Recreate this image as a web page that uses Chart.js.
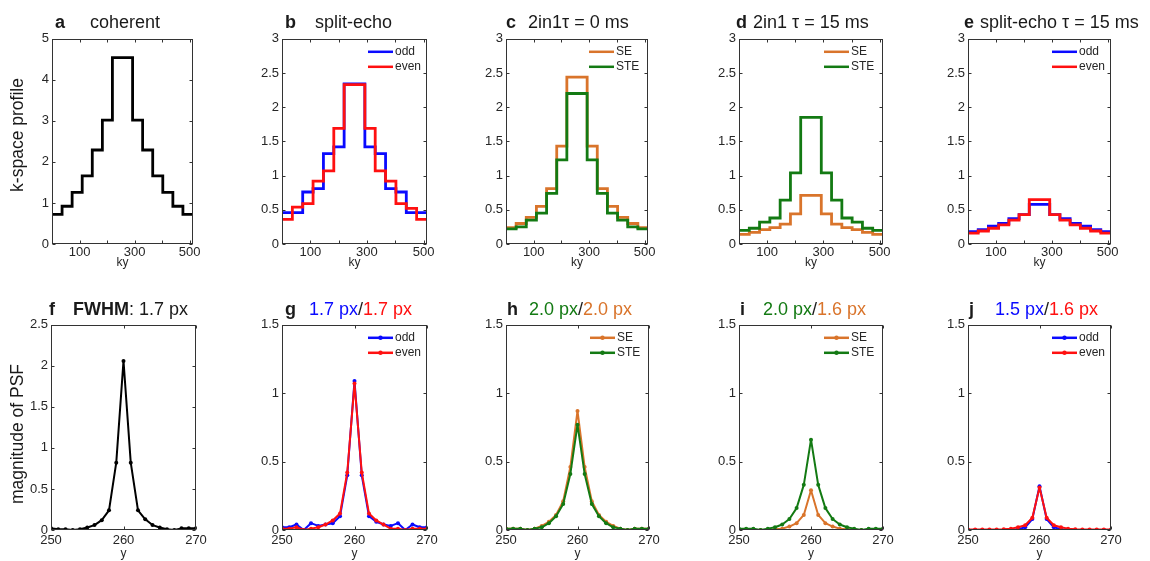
<!DOCTYPE html>
<html><head><meta charset="utf-8">
<script src="https://cdn.jsdelivr.net/npm/chart.js@4.4.1/dist/chart.umd.min.js"></script>
<style>
html,body{margin:0;padding:0;background:#fff;}
#wrap{position:relative;width:1150px;height:561px;overflow:hidden;font-family:"Liberation Sans",Arial,sans-serif;}
canvas{position:absolute;}
.t{position:absolute;white-space:nowrap;font-size:18px;line-height:18px;color:#1a1a1a;}
.b{font-weight:bold;}
.yl{position:absolute;white-space:nowrap;font-size:17.5px;line-height:18px;color:#1a1a1a;transform:translate(-50%,-50%) rotate(-90deg);}
</style></head><body><div id="wrap"></div>
<script>
// ---------- data ----------
// k-space segment edges (ky), last entry is the end of the axis
const kyEdges = [0, 36.6, 73.1, 109.7, 146.3, 182.9, 219.4, 292.6, 329.1, 365.7, 402.3, 438.9, 475.4, 512];
const profA     = [0.72, 0.92, 1.26, 1.66, 2.29, 3.02, 4.54, 3.02, 2.29, 1.66, 1.26, 0.92, 0.72];
const profBOdd  = [0.46, 0.46, 0.76, 0.81, 1.32, 1.42, 2.34, 1.42, 1.32, 0.81, 0.76, 0.46, 0.46];
const profBEven = [0.36, 0.54, 0.59, 0.92, 1.07, 1.69, 2.33, 1.69, 1.07, 0.92, 0.59, 0.52, 0.36];
const profCSE   = [0.24, 0.30, 0.39, 0.55, 0.81, 1.43, 2.44, 1.43, 0.81, 0.55, 0.39, 0.30, 0.24];
const profCSTE  = [0.22, 0.25, 0.35, 0.45, 0.74, 1.23, 2.20, 1.23, 0.74, 0.45, 0.35, 0.25, 0.22];
const profDSE   = [0.14, 0.17, 0.21, 0.24, 0.29, 0.44, 0.71, 0.44, 0.29, 0.24, 0.21, 0.17, 0.14];
const profDSTE  = [0.20, 0.23, 0.32, 0.38, 0.64, 1.04, 1.85, 1.04, 0.64, 0.38, 0.32, 0.23, 0.20];
const profEOdd  = [0.18, 0.21, 0.26, 0.30, 0.37, 0.43, 0.58, 0.43, 0.37, 0.30, 0.26, 0.21, 0.18];
const profEEven = [0.16, 0.19, 0.23, 0.28, 0.35, 0.43, 0.65, 0.43, 0.35, 0.28, 0.23, 0.19, 0.16];

// PSF sample positions (y)
const yPix = [250, 251, 252, 253, 254, 255, 256, 257, 258, 259, 260, 261, 262, 263, 264, 265, 266, 267, 268, 269, 270];
const psfF     = [0.02, 0.01, 0.01, 0.00, 0.01, 0.03, 0.06, 0.12, 0.24, 0.82, 2.06, 0.82, 0.24, 0.13, 0.06, 0.03, 0.01, 0.00, 0.02, 0.02, 0.02];
const psfGOdd  = [0.02, 0.02, 0.04, 0.00, 0.05, 0.03, 0.04, 0.05, 0.10, 0.40, 1.09, 0.40, 0.10, 0.06, 0.04, 0.03, 0.05, 0.00, 0.04, 0.02, 0.02];
const psfGEven = [0.01, 0.01, 0.02, 0.00, 0.01, 0.02, 0.04, 0.07, 0.12, 0.42, 1.07, 0.42, 0.12, 0.07, 0.04, 0.01, 0.01, 0.00, 0.01, 0.01, 0.01];
const psfHSE   = [0.01, 0.01, 0.01, 0.00, 0.01, 0.03, 0.06, 0.11, 0.21, 0.46, 0.87, 0.46, 0.21, 0.11, 0.06, 0.03, 0.01, 0.00, 0.01, 0.01, 0.01];
const psfHSTE  = [0.01, 0.01, 0.01, 0.00, 0.01, 0.02, 0.05, 0.10, 0.19, 0.41, 0.77, 0.41, 0.19, 0.10, 0.05, 0.02, 0.01, 0.00, 0.01, 0.01, 0.01];
const psfISE   = [0.00, 0.00, 0.00, 0.00, 0.00, 0.005, 0.01, 0.025, 0.05, 0.11, 0.29, 0.11, 0.05, 0.025, 0.01, 0.005, 0.00, 0.00, 0.00, 0.00, 0.00];
const psfISTE  = [0.01, 0.01, 0.01, 0.00, 0.01, 0.02, 0.04, 0.08, 0.16, 0.33, 0.66, 0.33, 0.16, 0.08, 0.04, 0.02, 0.01, 0.00, 0.01, 0.01, 0.01];
const psfJOdd  = [0.00, 0.00, 0.00, 0.00, 0.00, 0.00, 0.00, 0.005, 0.02, 0.08, 0.32, 0.08, 0.02, 0.005, 0.00, 0.00, 0.00, 0.00, 0.00, 0.00, 0.00];
const psfJEven = [0.003, 0.003, 0.003, 0.003, 0.003, 0.005, 0.01, 0.02, 0.035, 0.09, 0.31, 0.09, 0.035, 0.02, 0.01, 0.005, 0.003, 0.003, 0.003, 0.003, 0.003];

// tick labels
const kyTickLabels = [100, 300, 500];
const yTickLabels = [250, 260, 270];

// ---------- styling ----------
const BLUE = '#0a0aff', RED = '#ff1010', ORANGE = '#d9742b', GREEN = '#137a13', BLACK = '#000000';
const TXT = '#262626';
Chart.defaults.font.family = '"Liberation Sans", Arial, sans-serif';

const wrap = document.getElementById('wrap');

function stepData(vals) {
  const pts = vals.map((v, i) => ({x: kyEdges[i], y: v}));
  pts.push({x: kyEdges[kyEdges.length - 1], y: vals[vals.length - 1]});
  return pts;
}
function psfData(vals) { return vals.map((v, i) => ({x: yPix[i], y: v})); }

const framePlugin = {
  id: 'frame',
  afterDraw(chart) {
    const {ctx, chartArea: ca, scales} = chart;
    ctx.save();
    ctx.strokeStyle = '#333'; ctx.lineWidth = 1;
    const L = Math.round(ca.left) + 0.5, T = Math.round(ca.top) + 0.5;
    const R = Math.round(ca.right) - 0.5, B = Math.round(ca.bottom) - 0.5;
    ctx.strokeRect(L, T, R - L, B - T);
    ctx.beginPath();
    scales.x.ticks.forEach(t => {
      const px = Math.round(scales.x.getPixelForValue(t.value)) + 0.5;
      ctx.moveTo(px, B); ctx.lineTo(px, B - 3);
      ctx.moveTo(px, T); ctx.lineTo(px, T + 3);
    });
    scales.y.ticks.forEach(t => {
      const py = Math.round(scales.y.getPixelForValue(t.value)) + 0.5;
      ctx.moveTo(L, py); ctx.lineTo(L + 3, py);
      ctx.moveTo(R, py); ctx.lineTo(R - 3, py);
    });
    ctx.stroke();
    ctx.restore();
  }
};

const innerLegend = {
  id: 'innerLegend',
  afterDatasetsDraw(chart, args, opts) {
    if (!opts.show) return;
    const {ctx, chartArea: ca} = chart;
    chart.data.datasets.forEach((ds, i) => {
      const y = ca.top + 13 + i * 15;
      const x0 = ca.right - 59;
      ctx.save();
      ctx.strokeStyle = ds.borderColor; ctx.lineWidth = 2.5;
      ctx.beginPath(); ctx.moveTo(x0, y); ctx.lineTo(x0 + 25, y); ctx.stroke();
      if (opts.marker) {
        ctx.fillStyle = ds.borderColor;
        ctx.beginPath(); ctx.arc(x0 + 12.5, y, 2.2, 0, Math.PI * 2); ctx.fill();
      }
      ctx.fillStyle = TXT; ctx.font = '12px "Liberation Sans", Arial, sans-serif';
      ctx.textBaseline = 'middle'; ctx.textAlign = 'left';
      ctx.fillText(ds.label, x0 + 27, y);
      ctx.restore();
    });
  }
};

function makePanel(p) {
  const YW = 40, TP = 10, RP = 14, XH = p.row === 0 ? 26 : 31;
  const c = document.createElement('canvas');
  const w = p.box.r - p.box.l + YW + RP, h = p.box.b - p.box.t + TP + XH;
  c.width = w; c.height = h;
  c.style.left = (p.box.l - YW) + 'px'; c.style.top = (p.box.t - TP) + 'px';
  c.style.width = w + 'px'; c.style.height = h + 'px';
  wrap.appendChild(c);
  const top = p.row === 0;
  const labelSet = top ? kyTickLabels : yTickLabels;
  const datasets = p.series.map((s, i) => ({
    label: s.label,
    data: top ? stepData(s.values) : psfData(s.values),
    borderColor: s.color,
    backgroundColor: s.color,
    borderWidth: top ? 2.8 : 2,
    borderJoinStyle: top ? 'miter' : 'round',
    borderCapStyle: 'butt',
    pointRadius: top ? 0 : 2,
    pointBorderWidth: 0,
    pointBackgroundColor: s.color,
    stepped: top ? true : false,
    tension: 0,
    order: s.order !== undefined ? s.order : i
  }));
  new Chart(c, {
    type: 'line',
    data: {datasets},
    plugins: [framePlugin, innerLegend],
    options: {
      responsive: false, animation: false, devicePixelRatio: 1,
      layout: {padding: {top: TP, right: RP, left: 0, bottom: 0}},
      plugins: {legend: {display: false}, tooltip: {enabled: false},
                innerLegend: {show: p.series.length > 1, marker: !top}},
      scales: {
        x: {
          type: 'linear', min: top ? 0 : 250, max: top ? 512 : 270,
          afterFit: s => { s.height = XH; },
          grid: {display: false, drawTicks: false}, border: {display: false},
          ticks: {stepSize: top ? 100 : 10, includeBounds: false, autoSkip: false, maxRotation: 0,
                  padding: top ? 1 : 3, color: TXT, font: {size: 13},
                  callback: v => labelSet.includes(v) ? String(v) : ''},
          title: {display: true, text: top ? 'ky' : 'y', color: TXT, font: {size: 12}, padding: 0}
        },
        y: {
          type: 'linear', min: 0, max: p.ymax,
          afterFit: s => { s.width = YW; },
          grid: {display: false, drawTicks: false}, border: {display: false},
          ticks: {stepSize: p.ystep, padding: 3, color: TXT, font: {size: 13},
                  callback: v => String(v)}
        }
      }
    }
  });
}

const panels = [
  {row: 0, box: {l: 52, t: 38, r: 193, b: 244}, ymax: 5, ystep: 1,
   series: [{label: 'coherent', values: profA, color: BLACK}]},
  {row: 0, box: {l: 282, t: 38, r: 427, b: 244}, ymax: 3, ystep: 0.5,
   series: [{label: 'odd', values: profBOdd, color: BLUE, order: 1}, {label: 'even', values: profBEven, color: RED, order: 0}]},
  {row: 0, box: {l: 506, t: 38, r: 648, b: 244}, ymax: 3, ystep: 0.5,
   series: [{label: 'SE', values: profCSE, color: ORANGE, order: 1}, {label: 'STE', values: profCSTE, color: GREEN, order: 0}]},
  {row: 0, box: {l: 739, t: 38, r: 883, b: 244}, ymax: 3, ystep: 0.5,
   series: [{label: 'SE', values: profDSE, color: ORANGE, order: 1}, {label: 'STE', values: profDSTE, color: GREEN, order: 0}]},
  {row: 0, box: {l: 968, t: 38, r: 1111, b: 244}, ymax: 3, ystep: 0.5,
   series: [{label: 'odd', values: profEOdd, color: BLUE, order: 1}, {label: 'even', values: profEEven, color: RED, order: 0}]},
  {row: 1, box: {l: 51, t: 324, r: 196, b: 530}, ymax: 2.5, ystep: 0.5,
   series: [{label: 'coherent', values: psfF, color: BLACK}]},
  {row: 1, box: {l: 282, t: 324, r: 427, b: 530}, ymax: 1.5, ystep: 0.5,
   series: [{label: 'odd', values: psfGOdd, color: BLUE, order: 1}, {label: 'even', values: psfGEven, color: RED, order: 0}]},
  {row: 1, box: {l: 506, t: 324, r: 649, b: 530}, ymax: 1.5, ystep: 0.5,
   series: [{label: 'SE', values: psfHSE, color: ORANGE, order: 1}, {label: 'STE', values: psfHSTE, color: GREEN, order: 0}]},
  {row: 1, box: {l: 739, t: 324, r: 883, b: 530}, ymax: 1.5, ystep: 0.5,
   series: [{label: 'SE', values: psfISE, color: ORANGE, order: 1}, {label: 'STE', values: psfISTE, color: GREEN, order: 0}]},
  {row: 1, box: {l: 968, t: 324, r: 1111, b: 530}, ymax: 1.5, ystep: 0.5,
   series: [{label: 'odd', values: psfJOdd, color: BLUE, order: 1}, {label: 'even', values: psfJEven, color: RED, order: 0}]}
];
panels.forEach(makePanel);

// ---------- titles ----------
function addText(x, top, html, cls) {
  const d = document.createElement('div');
  d.className = cls || 't';
  d.style.left = x + 'px'; d.style.top = top + 'px';
  d.innerHTML = html;
  wrap.appendChild(d);
}
const T1 = 13, T2 = 300;
addText(55, T1, '<span class="b">a</span>');
addText(90, T1, 'coherent');
addText(285, T1, '<span class="b">b</span>');
addText(315, T1, 'split-echo');
addText(506, T1, '<span class="b">c</span>');
addText(528, T1, '2in1τ = 0 ms');
addText(736, T1, '<span class="b">d</span>');
addText(753, T1, '2in1 τ = 15 ms');
addText(964, T1, '<span class="b">e</span>');
addText(980, T1, 'split-echo τ = 15 ms');

addText(49, T2, '<span class="b">f</span>');
addText(73, T2, '<span class="b">FWHM</span>: 1.7 px');
addText(285, T2, '<span class="b">g</span>');
addText(309, T2, '<span style="color:' + BLUE + '">1.7 px</span>/<span style="color:' + RED + '">1.7 px</span>');
addText(507, T2, '<span class="b">h</span>');
addText(529, T2, '<span style="color:' + GREEN + '">2.0 px</span>/<span style="color:' + ORANGE + '">2.0 px</span>');
addText(740, T2, '<span class="b">i</span>');
addText(763, T2, '<span style="color:' + GREEN + '">2.0 px</span>/<span style="color:' + ORANGE + '">1.6 px</span>');
addText(969, T2, '<span class="b">j</span>');
addText(995, T2, '<span style="color:' + BLUE + '">1.5 px</span>/<span style="color:' + RED + '">1.6 px</span>');

addText(17, 135, 'k-space profile', 'yl');
addText(17, 434, 'magnitude of PSF', 'yl');
</script>
</body></html>
